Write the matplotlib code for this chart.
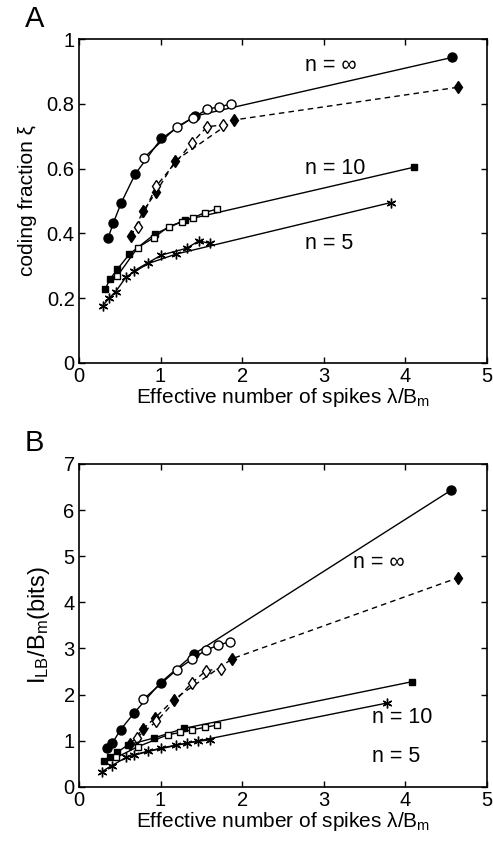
import matplotlib
matplotlib.use('Agg')
import matplotlib.pyplot as plt

plt.rcParams['font.family'] = ['Liberation Sans', 'DejaVu Sans']
plt.rcParams['mathtext.fontset'] = 'custom'
plt.rcParams['mathtext.rm'] = 'Liberation Sans'
plt.rcParams['mathtext.it'] = 'Liberation Sans'

# ---- panel A: coding fraction ----
a_circ_x = [0.36, 0.42, 0.52, 0.69, 1.01, 1.42, 4.57]
a_circ_y = [0.387, 0.431, 0.495, 0.583, 0.693, 0.762, 0.943]
a_ocirc_x = [0.80, 1.20, 1.40, 1.57, 1.72, 1.86]
a_ocirc_y = [0.634, 0.729, 0.757, 0.783, 0.791, 0.799]
a_diam_x = [0.64, 0.79, 0.95, 1.18, 1.90, 4.64]
a_diam_y = [0.392, 0.470, 0.529, 0.624, 0.750, 0.851]
a_odiam_x = [0.72, 0.95, 1.38, 1.57, 1.76]
a_odiam_y = [0.421, 0.547, 0.678, 0.729, 0.735]
a_sq_x = [0.32, 0.38, 0.47, 0.62, 0.93, 1.30, 4.10]
a_sq_y = [0.227, 0.258, 0.289, 0.336, 0.398, 0.441, 0.604]
a_osq_x = [0.47, 0.72, 0.92, 1.10, 1.26, 1.40, 1.54, 1.69]
a_osq_y = [0.268, 0.356, 0.387, 0.421, 0.436, 0.448, 0.464, 0.475]
a_star_x = [0.29, 0.37, 0.45, 0.58, 0.85, 1.19, 3.82]
a_star_y = [0.176, 0.200, 0.220, 0.266, 0.307, 0.336, 0.495]
a_star2_x = [0.68, 1.01, 1.32, 1.47, 1.60]
a_star2_y = [0.285, 0.333, 0.354, 0.377, 0.369]

# ---- panel B: information rate ----
b_circ_x = [0.35, 0.41, 0.51, 0.68, 1.00, 1.41, 4.56]
b_circ_y = [0.85, 0.95, 1.24, 1.61, 2.26, 2.88, 6.43]
b_ocirc_x = [0.79, 1.20, 1.39, 1.56, 1.71, 1.85]
b_ocirc_y = [1.90, 2.54, 2.77, 2.97, 3.07, 3.15]
b_diam_x = [0.63, 0.78, 0.93, 1.16, 1.88, 4.64]
b_diam_y = [0.93, 1.25, 1.49, 1.89, 2.78, 4.53]
b_odiam_x = [0.71, 0.95, 1.38, 1.56, 1.74]
b_odiam_y = [1.07, 1.42, 2.25, 2.52, 2.56]
b_sq_x = [0.31, 0.38, 0.47, 0.60, 0.92, 1.29, 4.08]
b_sq_y = [0.56, 0.64, 0.75, 0.91, 1.06, 1.27, 2.28]
b_osq_x = [0.46, 0.72, 1.09, 1.24, 1.39, 1.54, 1.69]
b_osq_y = [0.64, 0.87, 1.13, 1.18, 1.24, 1.29, 1.34]
b_star_x = [0.28, 0.40, 0.58, 0.85, 1.19, 3.78]
b_star_y = [0.33, 0.46, 0.64, 0.77, 0.90, 1.82]
b_star2_x = [0.68, 1.00, 1.32, 1.46, 1.60]
b_star2_y = [0.70, 0.84, 0.95, 0.99, 1.02]

fig = plt.figure(figsize=(4.93, 8.48), dpi=100)
axA = fig.add_axes([0.160, 0.572, 0.828, 0.382])
axB = fig.add_axes([0.160, 0.072, 0.828, 0.381])

ASTER = (6, 2, 0)  # matlab-style asterisk


def draw(ax, series):
    for x, y, m, filled, ls, ms in series:
        ax.plot(x, y, linestyle=ls, color='black', lw=1.0, marker=m, ms=ms,
                mfc='black' if filled else 'white', mec='black', mew=1.0,
                dashes=(4, 3) if ls == '--' else (None, None))


draw(axA, [
    (a_circ_x, a_circ_y, 'o', True, '-', 6.5),
    (a_ocirc_x, a_ocirc_y, 'o', False, '-', 6.5),
    (a_diam_x, a_diam_y, 'd', True, '--', 6.5),
    (a_odiam_x, a_odiam_y, 'd', False, '--', 6.5),
    (a_sq_x, a_sq_y, 's', True, '-', 5),
    (a_osq_x, a_osq_y, 's', False, '-', 5),
    (a_star_x, a_star_y, ASTER, True, '-', 7),
    (a_star2_x, a_star2_y, ASTER, True, '-', 7),
])
draw(axB, [
    (b_circ_x, b_circ_y, 'o', True, '-', 6.5),
    (b_ocirc_x, b_ocirc_y, 'o', False, '-', 6.5),
    (b_diam_x, b_diam_y, 'd', True, '--', 6.5),
    (b_odiam_x, b_odiam_y, 'd', False, '--', 6.5),
    (b_sq_x, b_sq_y, 's', True, '-', 5),
    (b_osq_x, b_osq_y, 's', False, '-', 5),
    (b_star_x, b_star_y, ASTER, True, '-', 7),
    (b_star2_x, b_star2_y, ASTER, True, '-', 7),
])

for ax in (axA, axB):
    ax.set_xlim(0, 5)
    ax.set_xticks(range(6))
    ax.tick_params(direction='in', top=True, right=True, labelsize=14.5,
                   length=4, width=1, pad=3)
    for s in ax.spines.values():
        s.set_linewidth(1.2)
    ax.set_xlabel(r'Effective number of spikes $\lambda$/B$_\mathregular{m}$',
                  fontsize=15, labelpad=0)

axA.set_ylim(0, 1)
axA.set_yticks([0, 0.2, 0.4, 0.6, 0.8, 1])
axA.set_yticklabels(['0', '0.2', '0.4', '0.6', '0.8', '1'])
axA.set_ylabel('coding fraction ξ', fontsize=15, labelpad=7)

axB.set_ylim(0, 7)
axB.set_yticks(range(8))
axB.set_ylabel(r'I$_\mathregular{LB}$/B$_\mathregular{m}$(bits)', fontsize=17, labelpad=8)

axA.text(2.77, 0.917, 'n = \u221e', fontsize=15.5, va='center')
axA.text(2.77, 0.600, 'n = 10', fontsize=15.5, va='center')
axA.text(2.77, 0.370, 'n = 5', fontsize=15.5, va='center')
axB.text(3.36, 4.86, 'n = \u221e', fontsize=15.5, va='center')
axB.text(3.59, 1.50, 'n = 10', fontsize=15.5, va='center')
axB.text(3.59, 0.65, 'n = 5', fontsize=15.5, va='center')

fig.text(0.05, 0.978, 'A', fontsize=21, va='center')
fig.text(0.05, 0.478, 'B', fontsize=21, va='center')

fig.savefig('out.png', dpi=100)
